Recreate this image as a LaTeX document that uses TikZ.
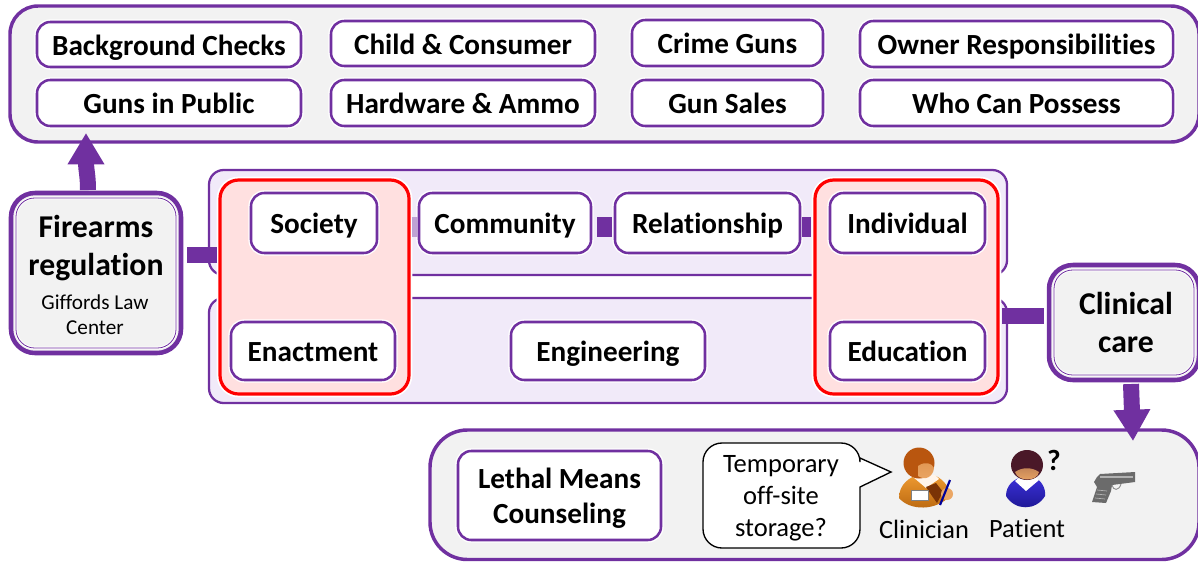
\documentclass[tikz,border=0pt]{standalone}
\usepackage{fontspec}
\setmainfont{Carlito}[Ligatures=NoCommon]
\usetikzlibrary{arrows.meta,calc}
\definecolor{pur}{HTML}{7030A0}
\definecolor{panelgray}{HTML}{F2F2F2}
\definecolor{panellav}{HTML}{F1EAF9}
\definecolor{redfill}{HTML}{FFE0E0}
\definecolor{hairA}{HTML}{B9560F}
\definecolor{hairB}{HTML}{7A3306}
\definecolor{skin}{HTML}{EBA765}
\definecolor{coat}{HTML}{EE9A30}
\definecolor{coatD}{HTML}{B8660F}
\definecolor{hairP}{HTML}{4A1828}
\definecolor{shirtP}{HTML}{3B30D8}
\definecolor{shirtD}{HTML}{1C1690}
\tikzset{
  x=0.75pt,y=-0.75pt,
  boxbase/.style={rectangle,inner sep=0pt,outer sep=0pt,align=center,text=black},
  panel/.style={boxbase,draw=pur,line width=2.6pt,fill=panelgray,rounded corners=21pt},
  widepanel/.style={panel,rounded corners=28pt},
  midpanel/.style={boxbase,draw=pur,line width=1.7pt,fill=panellav,rounded corners=11pt},
  redbox/.style={boxbase,draw=red,line width=2.4pt,fill=redfill,rounded corners=14pt,preaction={draw=white,line width=5pt}},
  item/.style={boxbase,draw=pur,line width=1.9pt,fill=white,rounded corners=10pt,font=\fontsize{21.9pt}{26pt}\selectfont\bfseries,text height=17pt,text depth=1pt,preaction={draw=white,line width=4pt}},
  bigitem/.style={boxbase,draw=pur,line width=1.9pt,fill=white,rounded corners=10pt,font=\fontsize{21.9pt}{26.25pt}\selectfont\bfseries,preaction={draw=white,line width=4pt}},
  hub/.style={boxbase,draw=pur,line width=3.4pt,fill=panelgray,rounded corners=18pt},
  hubinner/.style={draw=pur,line width=0.6pt,rounded corners=14pt,preaction={draw=white,line width=2pt}},
  link/.style={draw=pur,line width=12pt},
  smalllink/.style={draw=pur,line width=15pt},
  fadelink/.style={draw=pur!45,line width=15pt},
  arrowlink/.style={draw=pur,line width=12pt,-{Triangle[length=23.5pt,width=26pt]}},
  plain/.style={inner sep=0pt,outer sep=0pt,align=center,text=black},
  hubbig/.style={font=\fontsize{23.8pt}{28.5pt}\selectfont\bfseries},
  hubsmall/.style={font=\fontsize{15.9pt}{18.5pt}\selectfont},
  bubbletext/.style={plain,font=\fontsize{19.9pt}{24pt}\selectfont},
  iconlabel/.style={plain,font=\fontsize{19.8pt}{22pt}\selectfont},
}
\newcommand\pbox[7][]{\node[#2,minimum width={(#5-#3)*0.75pt},minimum height={(#6-#4)*0.75pt},#1] (#7) at ({(#3+#5)/2},{(#4+#6)/2})}
\begin{document}
\begin{tikzpicture}
\clip (0,0) rectangle (1198,561);
% panels
\pbox{panel}{10}{6}{1199}{142}{top} {};
\pbox{midpanel}{209}{170}{1007}{275}{upper} {};
\pbox{midpanel}{209}{298}{1007}{403}{lower} {};
\pbox{widepanel}{430}{430}{1199}{559.5}{bottom} {};
% hubs
\pbox{hub}{11}{193}{181}{353}{fire} {};
\pbox{hub}{1049}{265}{1199}{380}{clin} {};
\draw[hubinner] ($(fire.south west)+(5,-5)$) rectangle ($(fire.north east)+(-5,5)$);
\draw[hubinner] ($(clin.south west)+(5,-5)$) rectangle ($(clin.north east)+(-5,5)$);
\node[plain,hubbig] (firet) at (96,248.5) {Firearms\\regulation};
\node[plain,hubsmall] (fires) at (95,315) {Giffords Law\\Center};
\node[plain,hubbig] (clint) at (1126,322.5) {Clinical\\care};
% red groups
\pbox{redbox}{220}{180}{409}{394}{redL} {};
\pbox{redbox}{815}{180}{998}{394}{redR} {};
% top items
\pbox{item}{37}{22}{301}{67}{a1} {Background Checks};
\pbox{item}{331}{21}{595}{66}{a2} {Child \& Consumer};
\pbox{item}{632}{20}{823}{66}{a3} {Crime Guns};
\pbox{item}{860}{21}{1173}{67}{a4} {Owner Responsibilities};
\pbox{item}{37}{80}{301}{126}{b1} {Guns in Public};
\pbox{item}{331}{80}{595}{126}{b2} {Hardware \& Ammo};
\pbox{item}{632}{80}{823}{126}{b3} {Gun Sales};
\pbox{item}{860}{80}{1173}{126}{b4} {Who Can Possess};
% middle items
\pbox{item}{251}{193}{377}{253}{soc} {Society};
\pbox{item}{419}{193}{591}{253}{com} {Community};
\pbox{item}{615}{193}{800}{253}{rel} {Relationship};
\pbox{item}{830}{193}{985}{253}{ind} {Individual};
\pbox{item}{231}{322}{395}{380}{ena} {Enactment};
\pbox{item}{511}{322}{705}{380}{eng} {Engineering};
\pbox{item}{830}{322}{985}{380}{edu} {Education};
% links
\draw[link,shorten <=4.5pt,shorten >=2.5pt] (fire.east |- 0,255) -- (redL.west |- 0,255);
\draw[link,shorten <=3pt,shorten >=3.5pt] (redR.east |- 0,315.5) -- (clin.west |- 0,315.5);
\draw[fadelink,shorten <=2pt,shorten >=1pt] (redL.east |- 0,227) -- (com.west |- 0,227);
\draw[smalllink,shorten <=4.5pt,shorten >=2.5pt] (com.east |- 0,227) -- (rel.west |- 0,227);
\draw[smalllink,shorten <=1.5pt,shorten >=3pt] (rel.east |- 0,227) -- (redR.west |- 0,227);
\coordinate (aTip) at (86,133);
\coordinate (bTip) at (1133,441);
\draw[arrowlink] ($(fire.north)+(-8,-3)$) .. controls (88,175) and (86,170) .. (aTip);
\draw[arrowlink] ($(clin.south)+(7,4)$) -- (bTip);
% bottom row
\pbox{bigitem}{458}{451}{661}{540}{leth} {\rule{0pt}{19pt}Lethal Means\\Counseling};
\draw[black,line width=1pt,fill=white] (722,443) -- (841,443) arc (-90:0:19) -- (860,458) -- (891,472) -- (860,487) -- (860,529) arc (0:90:19) -- (722,548) arc (90:180:19) -- (703,462) arc (180:270:19) -- cycle;
\node[bubbletext] (bub) at (781,498) {Temporary\\off-site\\storage?};
% clinician icon
\shade[top color=coat,bottom color=coatD] (899,498) .. controls (899,484) and (910,477) .. (918,475) -- (936,476) .. controls (944,480) and (950,488) .. (950,496) .. controls (936,511) and (910,511) .. (899,498) -- cycle;
\fill[white!92!orange] (913,477) -- (920,474) -- (935,475) -- (939,479) -- (926,488) -- cycle;
\fill[hairB] (926,487) -- (936,483) -- (943,492) -- (937,503) -- (932,496) -- cycle;
\fill[white] (911,490) rectangle (928,500);
\draw[gray,line width=.4pt] (911,490) rectangle (928,500);
\fill[skin] (947,494) circle (6);
\draw[blue!60!black,line width=1.6pt] (940,505) -- (950,480);
\fill[hairA] (919,463) ellipse (15.5 and 15.5);
\shade[top color=skin!80!hairA,bottom color=skin] (918,466) .. controls (925,461) and (932,463) .. (934,468) .. controls (933,477) and (925,481) .. (918,476) -- cycle;
% patient icon
\shade[top color=shirtP,bottom color=shirtD] (1006,496) .. controls (1006,485) and (1014,479) .. (1022,477) -- (1034,477) .. controls (1041,480) and (1046,488) .. (1045,496) .. controls (1036,511) and (1015,511) .. (1006,496) -- cycle;
\fill[white] (1015,481) -- (1021,476) -- (1035,476) -- (1039,480) -- (1026,491) -- cycle;
\fill[hairP] (1027,465) ellipse (16 and 15);
\shade[top color=skin!75!hairP,bottom color=skin] (1015,472) .. controls (1022,467) and (1032,467) .. (1039,472) .. controls (1037,482) and (1018,482) .. (1015,472) -- cycle;
% gun
\fill[black!58] (1097,477) -- (1100,474) -- (1135,472) -- (1135,482) -- (1112,485) -- (1111,491) -- (1106,503) -- (1092,502) -- (1097,487) -- (1094,482) -- cycle;
\draw[black!45,line width=.7pt] (1112,485) .. controls (1113,491) and (1119,491) .. (1121,484);
\fill[black!30] (1100,476) rectangle (1133,478);
\draw[black!30,line width=.5pt] (1097,490) -- (1107,491) (1096,494) -- (1106,495) (1095,498) -- (1105,499);
% labels
\node[plain,font=\fontsize{22pt}{24pt}\selectfont\bfseries] (qm) at (1054,460) {?};
\node[iconlabel] (cl) at (924,529) {Clinician};
\node[iconlabel] (pa) at (1027,529) {Patient};
\end{tikzpicture}
\end{document}
